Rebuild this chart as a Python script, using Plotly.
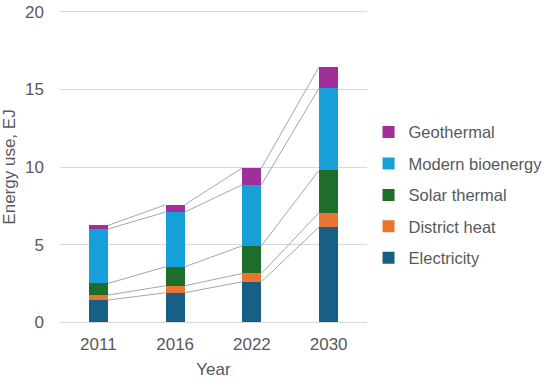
import plotly.graph_objects as go

years = ["2011", "2016", "2022", "2030"]
electricity = [1.44, 1.91, 2.62, 6.14]
district_heat = [0.32, 0.45, 0.53, 0.92]
solar_thermal = [0.75, 1.22, 1.78, 2.73]
modern_bioenergy = [3.50, 3.52, 3.93, 5.28]
geothermal = [0.23, 0.47, 1.08, 1.37]

series = [
    ("Electricity", electricity, "#175f84"),
    ("District heat", district_heat, "#e8742f"),
    ("Solar thermal", solar_thermal, "#1e6d2b"),
    ("Modern bioenergy", modern_bioenergy, "#17a0d8"),
    ("Geothermal", geothermal, "#a02f9c"),
]

xpos = list(range(len(years)))
bar_w = 0.25

fig = go.Figure()

# connector lines between cumulative tops
cum = [0.0] * len(years)
for name, vals, color in series:
    cum = [c + v for c, v in zip(cum, vals)]
    lx, ly = [], []
    for i in range(len(years) - 1):
        lx += [xpos[i] + bar_w / 2, xpos[i + 1] - bar_w / 2, None]
        ly += [cum[i], cum[i + 1], None]
    fig.add_trace(go.Scatter(x=lx, y=ly, mode="lines",
                             line=dict(color="#a6a6a6", width=1),
                             showlegend=False, hoverinfo="skip"))

n = len(series)
for k, (name, vals, color) in enumerate(series):
    fig.add_trace(go.Bar(x=xpos, y=vals, name=name, width=bar_w,
                         marker=dict(color=color, line=dict(width=0)),
                         legendgroup=name, legendrank=n - k))

fig.update_layout(
    barmode="stack",
    width=550, height=379,
    margin=dict(l=60, r=183, t=10, b=55, autoexpand=False),
    paper_bgcolor="white", plot_bgcolor="white",
    font=dict(family="Liberation Sans, Arial, sans-serif", size=17, color="#595959"),
    legend=dict(traceorder="grouped", x=1.005, xanchor="left", y=0.41,
                yanchor="middle", font=dict(size=16.5, color="#595959"),
                tracegroupgap=7, itemwidth=30),
    xaxis=dict(tickmode="array", tickvals=xpos, ticktext=years, range=[-0.5, 3.5],
               showgrid=False, zeroline=False, showline=False, ticks="",
               automargin=False, ticklabelstandoff=8,
               title=dict(text="Year", font=dict(size=17), standoff=10)),
    yaxis=dict(range=[-0.1, 20.1], tickvals=[0, 5, 10, 15, 20], showgrid=True,
               gridcolor="#d9d9d9", gridwidth=1, zeroline=False, showline=False,
               ticks="", ticklabelstandoff=15, automargin=True,
               ticklabeloverflow="allow",
               title=dict(text="Energy use, EJ", font=dict(size=17), standoff=5)),
)

# remove the browser's default 8px body margin so the figure fills the window
fig.write_html("out.html", config={"displayModeBar": False},
               post_script="document.body.style.margin='0';")
